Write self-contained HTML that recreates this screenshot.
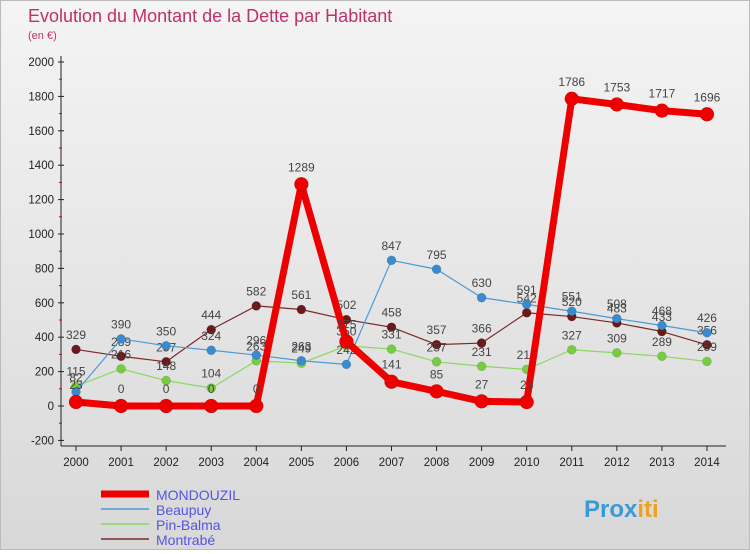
<!DOCTYPE html>
<html><head><meta charset="utf-8"><style>
body{margin:0;width:750px;height:550px;overflow:hidden;font-family:"Liberation Sans","DejaVu Sans",sans-serif}
#wrap{position:relative;width:748px;height:548px;border:1px solid #bbb;background:linear-gradient(#f4f4f4,#d8d8d8)}
</style></head><body>
<div id="wrap">
<svg id="chart" width="748" height="548"></svg>
</div>
<script>
const years=[2000,2001,2002,2003,2004,2005,2006,2007,2008,2009,2010,2011,2012,2013,2014];
const mondouzil=[23,0,0,0,0,1289,375,141,85,27,23,1786,1753,1717,1696];
const beaupuy=[82,390,350,324,296,263,242,847,795,630,591,551,508,468,426];
const pinBalma=[115,216,148,104,263,249,350,331,257,231,213,327,309,289,259];
const montrabe=[329,289,257,444,582,561,502,458,357,366,542,520,483,433,356];
const yTicks=[-200,0,200,400,600,800,1000,1200,1400,1600,1800,2000];
const seriesNames=["MONDOUZIL","Beaupuy","Pin-Balma","Montrabé"];
const NS="http://www.w3.org/2000/svg";
const svg=document.getElementById('chart');
const X=i=>75+i*45.07;
const Y=v=>405-v*0.172;
function el(t,a,p){const e=document.createElementNS(NS,t);for(const k in a)e.setAttribute(k,a[k]);(p||svg).appendChild(e);return e;}
function txt(x,y,s,a){const e=el('text',Object.assign({x:x,y:y},a));e.textContent=s;return e;}
let t=txt(27,21,"Evolution du Montant de la Dette par Habitant",{fill:"#c0306a","font-size":"18"});

t=txt(27,38,"(en €)",{fill:"#c0306a","font-size":"11"});

// axes
let ax=el('line',{x1:60,y1:55,x2:60,y2:445,stroke:"#222"});

ax=el('line',{x1:60,y1:445,x2:725,y2:445,stroke:"#222"});

yTicks.forEach(v=>{
 el('line',{x1:57,y1:Y(v),x2:63,y2:Y(v),stroke:"#222"});
 if(v<2000)el('line',{x1:58,y1:Y(v+100),x2:61,y2:Y(v+100),stroke:"#d00"});
 const l=txt(53,Y(v)+4,String(v),{fill:"#222","font-size":"11.5","text-anchor":"end"});
 
});
years.forEach((y,i)=>{
 el('line',{x1:X(i),y1:445,x2:X(i),y2:450,stroke:"#222"});
 const l=txt(X(i),465,String(y),{fill:"#222","font-size":"11.5","text-anchor":"middle"});
 
});
function series(data,color,dotFill,w,r,name){
 const g=el('g',{});
 
 el('polyline',{points:data.map((v,i)=>X(i)+","+Y(v)).join(" "),fill:"none",stroke:color,"stroke-width":w,"stroke-linejoin":"round"},g);
 data.forEach((v,i)=>{
  const c=el('circle',{cx:X(i),cy:Y(v),r:r,fill:dotFill,stroke:"#0003","stroke-width":0.5},g);
  
  const l=txt(X(i),Y(v)-(r+6),String(v),{fill:"#444","font-size":"12","text-anchor":"middle"},g);
  
 });
}
series(montrabe,"#7a2a2a","#6a1a1a",1.2,4.5,"montrabe");
series(pinBalma,"#88d860","#77cc44",1.2,4.5,"pin-balma");
series(beaupuy,"#4a9ad8","#3a8ad0",1.2,4.5,"beaupuy");
series(mondouzil,"#ee0000","#ee0000",7,7,"mondouzil");
// legend
const leg=[["#ee0000",7],["#4a9ad8",1.5],["#88d860",1.5],["#7a2a2a",1.5]];
seriesNames.forEach((n,i)=>{
 const y=493+i*15;
 const g=el('g',{});
 
 el('line',{x1:100,y1:y,x2:148,y2:y,stroke:leg[i][0],"stroke-width":leg[i][1]},g);
 txt(155,y+6,n,{fill:"#5555dd","font-size":"14"},g);
});
const lg=txt(583,516,"Prox",{fill:"#3a9ad8","font-size":"24","font-weight":"bold"});

const t2=document.createElementNS(NS,'tspan');t2.setAttribute('fill','#f0a020');t2.textContent="iti";lg.appendChild(t2);
</script>
</body></html>
